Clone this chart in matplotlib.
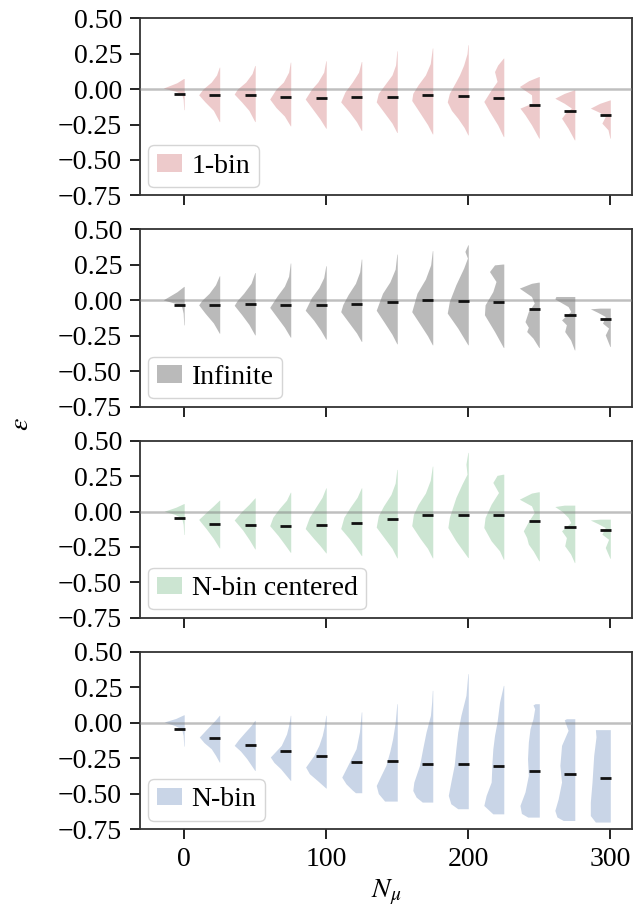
import numpy as np
import matplotlib.pyplot as plt
from matplotlib.patches import Patch

plt.rcParams['font.family'] = ['Liberation Serif', 'DejaVu Serif']
plt.rcParams['mathtext.fontset'] = 'stix'

n_mu = [0, 25, 50, 75, 100, 125, 150, 175, 200, 225, 250, 275, 300]
labels = ["1-bin", "Infinite", "N-bin centered", "N-bin"]
colors = ["#edcacb", "#bababa", "#cce5d2", "#c9d5e7"]

# medians of epsilon for each N_mu
median_1bin = [-0.033, -0.042, -0.040, -0.057, -0.061, -0.059, -0.055, -0.038, -0.047, -0.064, -0.113, -0.153, -0.179]
median_inf = [-0.034, -0.034, -0.027, -0.031, -0.034, -0.025, -0.015, 0.004, -0.002, -0.013, -0.062, -0.107, -0.131]
median_nbc = [-0.045, -0.087, -0.092, -0.101, -0.097, -0.080, -0.056, -0.023, -0.023, -0.028, -0.068, -0.108, -0.129]
median_nbin = [-0.045, -0.108, -0.160, -0.200, -0.238, -0.275, -0.273, -0.290, -0.294, -0.306, -0.341, -0.365, -0.388]

# violin outlines: (epsilon, relative density)
shape_1bin = [
    [(0.075, 0.03), (0.045, 0.35), (0.007, 1.0), (-0.015, 0.4), (-0.035, 0.12), (-0.07, 0.05), (-0.145, 0.02)],
    [(0.155, 0.02), (0.10, 0.15), (0.05, 0.4), (0.0, 0.8), (-0.04, 1.0), (-0.09, 0.7), (-0.15, 0.3), (-0.229, 0.02)],
    [(0.167, 0.02), (0.11, 0.15), (0.05, 0.45), (0.0, 0.85), (-0.035, 1.0), (-0.09, 0.65), (-0.15, 0.3), (-0.229, 0.02)],
    [(0.19, 0.02), (0.12, 0.1), (0.05, 0.35), (0.0, 0.7), (-0.07, 1.0), (-0.13, 0.7), (-0.19, 0.3), (-0.259, 0.02)],
    [(0.20, 0.02), (0.12, 0.12), (0.05, 0.4), (0.0, 0.7), (-0.07, 1.0), (-0.14, 0.65), (-0.21, 0.3), (-0.276, 0.02)],
    [(0.195, 0.02), (0.12, 0.15), (0.05, 0.45), (-0.02, 0.8), (-0.09, 1.0), (-0.16, 0.6), (-0.23, 0.25), (-0.292, 0.02)],
    [(0.27, 0.02), (0.17, 0.08), (0.1, 0.25), (0.03, 0.6), (-0.03, 0.9), (-0.09, 1.0), (-0.17, 0.6), (-0.24, 0.25), (-0.306, 0.02)],
    [(0.29, 0.02), (0.18, 0.12), (0.1, 0.35), (0.03, 0.7), (-0.03, 0.95), (-0.08, 1.0), (-0.17, 0.6), (-0.25, 0.25), (-0.316, 0.02)],
    [(0.313, 0.02), (0.25, 0.06), (0.17, 0.22), (0.1, 0.42), (0.05, 0.6), (-0.03, 0.9), (-0.09, 1.0), (-0.15, 0.8), (-0.205, 0.5), (-0.27, 0.2), (-0.323, 0.02)],
    [(0.219, 0.02), (0.17, 0.29), (0.124, 0.44), (0.054, 0.32), (-0.005, 0.6), (-0.087, 0.95), (-0.158, 0.68), (-0.252, 0.29), (-0.335, 0.02)],
    [(0.089, 0.02), (0.06, 0.5), (0.018, 0.95), (-0.04, 0.37), (-0.099, 0.35), (-0.134, 0.92), (-0.181, 0.68), (-0.252, 0.37), (-0.346, 0.02)],
    [(-0.005, 0.02), (-0.03, 0.5), (-0.064, 0.95), (-0.1, 0.5), (-0.134, 0.16), (-0.17, 0.45), (-0.205, 0.63), (-0.276, 0.32), (-0.358, 0.02)],
    [(-0.076, 0.02), (-0.1, 0.5), (-0.134, 0.95), (-0.165, 0.5), (-0.193, 0.24), (-0.24, 0.4), (-0.287, 0.11), (-0.346, 0.02)],
]
shape_inf = [
    [(0.098, 0.02), (0.06, 0.35), (0.003, 1.0), (-0.02, 0.45), (-0.045, 0.12), (-0.09, 0.05), (-0.173, 0.02)],
    [(0.173, 0.02), (0.11, 0.2), (0.05, 0.5), (0.0, 0.85), (-0.032, 1.0), (-0.09, 0.7), (-0.16, 0.3), (-0.232, 0.02)],
    [(0.196, 0.02), (0.12, 0.2), (0.05, 0.55), (0.0, 0.85), (-0.035, 1.0), (-0.1, 0.65), (-0.17, 0.3), (-0.244, 0.02)],
    [(0.263, 0.02), (0.17, 0.1), (0.1, 0.3), (0.03, 0.65), (-0.05, 1.0), (-0.12, 0.65), (-0.19, 0.3), (-0.26, 0.02)],
    [(0.244, 0.02), (0.16, 0.12), (0.09, 0.35), (0.02, 0.7), (-0.07, 1.0), (-0.14, 0.6), (-0.21, 0.27), (-0.274, 0.02)],
    [(0.291, 0.02), (0.2, 0.1), (0.12, 0.3), (0.04, 0.65), (-0.03, 0.9), (-0.08, 1.0), (-0.16, 0.6), (-0.23, 0.25), (-0.29, 0.02)],
    [(0.326, 0.02), (0.22, 0.1), (0.13, 0.35), (0.05, 0.7), (-0.07, 1.0), (-0.16, 0.6), (-0.24, 0.25), (-0.307, 0.02)],
    [(0.35, 0.02), (0.25, 0.1), (0.15, 0.35), (0.05, 0.75), (-0.08, 1.0), (-0.17, 0.6), (-0.25, 0.25), (-0.314, 0.02)],
    [(0.392, 0.02), (0.345, 0.16), (0.298, 0.04), (0.227, 0.22), (0.11, 0.59), (-0.008, 0.9), (-0.09, 1.0), (-0.196, 0.5), (-0.314, 0.02)],
    [(0.256, 0.05), (0.25, 0.44), (0.203, 0.68), (0.133, 0.37), (0.062, 0.52), (-0.032, 0.89), (-0.102, 0.92), (-0.22, 0.44), (-0.333, 0.02)],
    [(0.128, 0.05), (0.12, 0.37), (0.086, 0.95), (0.027, 0.37), (-0.02, 0.24), (-0.079, 0.52), (-0.15, 0.68), (-0.19, 0.52), (-0.22, 0.6), (-0.267, 0.3), (-0.333, 0.02)],
    [(0.027, 0.9), (0.01, 0.95), (-0.02, 0.6), (-0.044, 0.32), (-0.079, 0.19), (-0.138, 0.63), (-0.173, 0.4), (-0.22, 0.48), (-0.28, 0.2), (-0.35, 0.02)],
    [(-0.055, 0.5), (-0.06, 0.95), (-0.085, 0.6), (-0.114, 0.24), (-0.161, 0.37), (-0.196, 0.08), (-0.244, 0.24), (-0.326, 0.02)],
]
shape_nbc = [
    [(0.056, 0.02), (0.03, 0.4), (0.002, 0.95), (-0.02, 0.45), (-0.045, 0.12), (-0.09, 0.05), (-0.162, 0.02)],
    [(0.08, 0.02), (0.04, 0.3), (0.0, 0.6), (-0.056, 1.0), (-0.12, 0.65), (-0.19, 0.3), (-0.257, 0.02)],
    [(0.096, 0.02), (0.05, 0.3), (0.0, 0.65), (-0.06, 1.0), (-0.13, 0.6), (-0.2, 0.28), (-0.264, 0.02)],
    [(0.136, 0.02), (0.08, 0.2), (0.02, 0.55), (-0.04, 0.85), (-0.1, 1.0), (-0.17, 0.6), (-0.23, 0.3), (-0.288, 0.02)],
    [(0.167, 0.02), (0.1, 0.2), (0.03, 0.5), (-0.04, 0.8), (-0.12, 1.0), (-0.19, 0.6), (-0.24, 0.3), (-0.292, 0.02)],
    [(0.167, 0.02), (0.1, 0.22), (0.03, 0.55), (-0.04, 0.85), (-0.12, 1.0), (-0.19, 0.6), (-0.25, 0.3), (-0.311, 0.02)],
    [(0.297, 0.02), (0.2, 0.1), (0.12, 0.3), (0.04, 0.65), (-0.03, 0.9), (-0.11, 1.0), (-0.19, 0.6), (-0.26, 0.25), (-0.327, 0.02)],
    [(0.32, 0.02), (0.22, 0.12), (0.13, 0.35), (0.05, 0.7), (-0.02, 0.92), (-0.1, 1.0), (-0.19, 0.6), (-0.26, 0.25), (-0.327, 0.02)],
    [(0.417, 0.02), (0.334, 0.11), (0.263, 0.06), (0.193, 0.3), (0.099, 0.59), (-0.042, 0.9), (-0.113, 0.97), (-0.207, 0.59), (-0.325, 0.02)],
    [(0.263, 0.05), (0.255, 0.32), (0.205, 0.52), (0.134, 0.25), (0.052, 0.6), (-0.042, 0.89), (-0.113, 0.95), (-0.207, 0.6), (-0.278, 0.2), (-0.337, 0.02)],
    [(0.139, 0.05), (0.13, 0.37), (0.087, 0.95), (0.04, 0.37), (-0.007, 0.24), (-0.066, 0.5), (-0.136, 0.76), (-0.184, 0.6), (-0.23, 0.52), (-0.278, 0.29), (-0.348, 0.02)],
    [(0.045, 0.5), (0.035, 0.95), (0.0, 0.6), (-0.042, 0.32), (-0.078, 0.19), (-0.136, 0.63), (-0.184, 0.4), (-0.242, 0.48), (-0.3, 0.2), (-0.36, 0.02)],
    [(-0.054, 0.5), (-0.06, 0.95), (-0.085, 0.6), (-0.113, 0.24), (-0.16, 0.4), (-0.196, 0.08), (-0.254, 0.24), (-0.33, 0.02)],
]
shape_nbin = [
    [(0.056, 0.02), (0.03, 0.4), (0.005, 0.95), (-0.02, 0.45), (-0.045, 0.12), (-0.09, 0.05), (-0.165, 0.02)],
    [(0.052, 0.02), (0.02, 0.2), (-0.042, 0.6), (-0.101, 0.97), (-0.14, 0.75), (-0.184, 0.4), (-0.23, 0.2), (-0.278, 0.02)],
    [(0.016, 0.02), (-0.02, 0.2), (-0.066, 0.48), (-0.12, 0.8), (-0.16, 1.0), (-0.2, 0.7), (-0.254, 0.4), (-0.337, 0.02)],
    [(0.052, 0.02), (-0.02, 0.1), (-0.08, 0.2), (-0.16, 0.45), (-0.242, 0.97), (-0.28, 0.8), (-0.325, 0.48), (-0.407, 0.02)],
    [(0.052, 0.02), (-0.03, 0.1), (-0.09, 0.19), (-0.16, 0.35), (-0.231, 0.59), (-0.313, 0.98), (-0.36, 0.8), (-0.407, 0.43), (-0.461, 0.02)],
    [(0.076, 0.02), (-0.066, 0.11), (-0.184, 0.27), (-0.278, 0.59), (-0.384, 0.95), (-0.431, 0.75), (-0.475, 0.45), (-0.494, 0.3)],
    [(0.134, 0.02), (0.0, 0.1), (-0.113, 0.22), (-0.2, 0.35), (-0.301, 0.54), (-0.38, 0.8), (-0.443, 1.0), (-0.5, 0.9), (-0.553, 0.6)],
    [(0.228, 0.02), (0.15, 0.05), (0.052, 0.11), (-0.066, 0.32), (-0.184, 0.48), (-0.301, 0.63), (-0.419, 0.9), (-0.478, 0.95), (-0.525, 0.79), (-0.56, 0.5)],
    [(0.346, 0.02), (0.193, 0.11), (0.052, 0.35), (-0.066, 0.5), (-0.184, 0.59), (-0.301, 0.67), (-0.419, 0.83), (-0.513, 0.95), (-0.572, 0.83), (-0.607, 0.5)],
    [(0.263, 0.02), (0.146, 0.2), (0.005, 0.32), (-0.09, 0.44), (-0.184, 0.52), (-0.278, 0.56), (-0.419, 0.6), (-0.513, 0.84), (-0.584, 0.95), (-0.643, 0.52)],
    [(0.134, 0.2), (0.125, 0.3), (0.099, 0.22), (0.028, 0.3), (-0.042, 0.44), (-0.136, 0.52), (-0.254, 0.56), (-0.372, 0.52), (-0.489, 0.68), (-0.584, 0.92), (-0.64, 0.85), (-0.666, 0.55)],
    [(0.028, 0.4), (0.02, 0.5), (-0.054, 0.32), (-0.16, 0.63), (-0.301, 0.71), (-0.419, 0.63), (-0.537, 0.79), (-0.619, 0.95), (-0.665, 0.85), (-0.69, 0.55)],
    [(-0.049, 0.71), (-0.1, 0.68), (-0.231, 0.79), (-0.419, 0.87), (-0.56, 0.95), (-0.655, 0.95), (-0.701, 0.71)],
]

shapes = [shape_1bin, shape_inf, shape_nbc, shape_nbin]
medians = [median_1bin, median_inf, median_nbc, median_nbin]
yticks = [-0.75, -0.5, -0.25, 0.0, 0.25, 0.5]

HALF = 14.8  # half-violin width in N_mu units
FS = 20

fig, axes = plt.subplots(4, 1, figsize=(6.4, 9.13), dpi=100, sharex=True)
fig.subplots_adjust(left=0.219, right=0.988, top=0.980, bottom=0.092, hspace=0.192)

for ax, shp, med, lab, col in zip(axes, shapes, medians, labels, colors):
    for x, prof, m in zip(n_mu, shp, med):
        ys = np.array([p[0] for p in prof])
        ws = np.array([p[1] for p in prof])
        ax.fill_betweenx(ys, x - HALF * ws, x, color=col, lw=0, zorder=2)
        ax.hlines(m, x - 7.5, x + 0.5, color="#111111", lw=2.0, zorder=4)
    ax.axhline(0, color="gray", alpha=0.5, lw=1.8, zorder=3)
    ax.set_ylim(-0.75, 0.5)
    ax.set_yticks(yticks)
    ax.set_yticklabels([f"{v:.2f}".replace("-", "\u2212") for v in yticks])
    ax.set_xlim(-31, 315.5)
    ax.set_xticks([0, 100, 200, 300])
    ax.tick_params(labelsize=FS, length=7, width=1.4, pad=6, color="#222222")
    for sp in ax.spines.values():
        sp.set_color("#333333")
        sp.set_linewidth(1.3)
    ax.legend(handles=[Patch(facecolor=col, edgecolor="none", label=lab)],
              loc="lower left", fontsize=FS, frameon=True, fancybox=True,
              handlelength=0.9, handleheight=0.6, handletextpad=0.35,
              borderpad=0.3, borderaxespad=0.3, edgecolor="#d5d5d5", framealpha=1)

axes[-1].set_xlabel(r"$N_\mu$", fontsize=FS, labelpad=4)
fig.text(0.034, 0.536, r"$\varepsilon$", rotation=90, va="center", ha="center", fontsize=FS)

fig.savefig("out.png", dpi=100)
